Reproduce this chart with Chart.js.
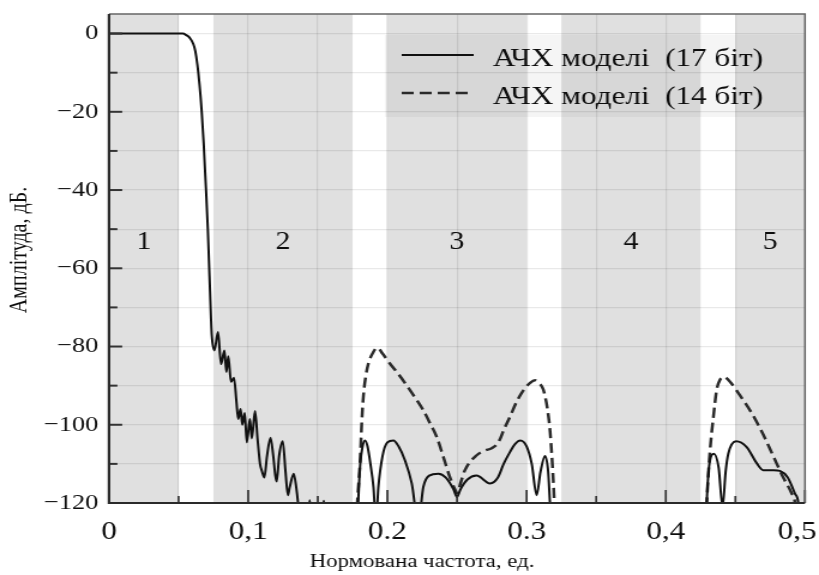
<!DOCTYPE html>
<html>
<head>
<meta charset="utf-8">
<script src="https://cdn.jsdelivr.net/npm/chart.js@4/dist/chart.umd.min.js"></script>
<style>
  html, body { margin: 0; padding: 0; background: #fff; overflow: hidden; }
  #wrap { width: 819px; height: 575px; }
  /* the source picture is stretched horizontally, so the canvas is too */
  canvas { display: block; transform: scale(1.19912, 1); transform-origin: 0 0; }
</style>
</head>
<body>
<div id="wrap"><canvas id="chart" width="683" height="575" style="width:683px;height:575px"></canvas></div>
<script>
// 17-bit model response
const freq17 = [
  0, 0.03, 0.05, 0.053, 0.0555, 0.058, 0.0605, 0.062, 0.0635, 0.065, 0.0666, 0.068, 0.0697, 0.071, 0.0718, 0.0726, 0.0733, 0.0738,
  0.0757, 0.0783, 0.0805, 0.0829, 0.0843, 0.0857, 0.0876, 0.0898, 0.0915, 0.0928, 0.0945, 0.0958, 0.0975, 0.099, 0.1012, 0.1026,
  0.1049, 0.1068, 0.1085, 0.11, 0.1116, 0.1135, 0.116, 0.118, 0.1195, 0.1205, 0.1222, 0.1248, 0.1268, 0.1285, 0.1298, 0.1327,
  0.1345, 0.1358, 0.137,
  0.14, 0.1428, 0.1442, 0.1456, 0.15, 0.153, 0.1543, 0.1556, 0.16,
  0.1784, 0.179, 0.1805, 0.1822, 0.1839, 0.1857, 0.1878, 0.19, 0.1918, 0.1935, 0.1965, 0.2, 0.2043, 0.208, 0.2125, 0.2175, 0.2222,
  0.2258, 0.23, 0.2366, 0.242, 0.2475, 0.25, 0.2525, 0.2575, 0.264, 0.2737, 0.2795, 0.2835, 0.288, 0.2915, 0.2955, 0.3, 0.3037,
  0.3072, 0.31, 0.3132, 0.3155, 0.3168, 0.3178,
  0.38,
  0.429, 0.4294, 0.4318, 0.4345, 0.438, 0.4408, 0.443, 0.4449, 0.4505, 0.4581, 0.4653, 0.47, 0.4775, 0.482, 0.4875, 0.4928, 0.4952, 0.4962
];
const amp17 = [
  0, 0, 0, 0, -0.4, -1.1, -2.6, -4.5, -8, -13, -20, -28, -40, -50, -58, -66, -73, -77,
  -81, -76.3, -84.5, -81, -86.5, -82.5, -89, -88, -94, -98.5, -96, -100, -97, -104.5, -98.5, -103.5,
  -96.5, -104, -110, -112, -113.5, -108, -103.3, -108, -113, -114.5, -108, -104.2, -112, -118, -116, -112.5,
  -116, -120, -125,
  null, -125, -119.3, -125, null, -125, -119.4, -125, null,
  -125, -120, -110, -105.5, -104, -105.5, -110, -116, -125, -116, -108, -104.5, -104, -105.5, -109, -115, -125,
  -115.9, -113, -112.5, -113.5, -116.5, -118.5, -116.5, -114, -113, -115, -113.4, -110, -107, -105, -104, -105.5, -110,
  -118, -112, -108, -112, -120, -125,
  null,
  -125, -120, -109, -107.4, -111, -121, -112, -107.4, -104.2, -105.7, -109.8, -111.6, -111.6, -111.8, -113.4, -117.6, -120, -125
];

// 14-bit model response (only where it differs from the 17-bit one)
const freq14 = [
  0.1778, 0.1784, 0.1803, 0.1815, 0.1827, 0.1845, 0.1863, 0.1899, 0.1928, 0.1965, 0.2019, 0.2078, 0.2138, 0.2198, 0.2258, 0.2306,
  0.2354, 0.24, 0.2445, 0.2485, 0.2502, 0.2525, 0.2557, 0.2641, 0.27, 0.2749, 0.2797, 0.284, 0.288, 0.293, 0.2977, 0.3025, 0.306,
  0.3095, 0.312, 0.315, 0.3168, 0.3185, 0.3197, 0.3205,
  0.38,
  0.4288, 0.4294, 0.4318, 0.4342, 0.4366, 0.439, 0.4418, 0.4461, 0.4533, 0.4617, 0.47, 0.4772, 0.4844, 0.4904, 0.4928, 0.4938
];
const amp14 = [
  -125, -120, -110, -100, -92.9, -87.5, -84.4, -81.4, -80.3, -81.8, -84.4, -87, -89.9, -93, -96.3, -99.6,
  -103.1, -108, -113, -116.5, -117.5, -115, -111.6, -107.8, -106.6, -106, -104.5, -101, -98, -94, -91.2, -89.3, -88.6,
  -89.5, -91, -96, -101.4, -110, -118, -125,
  null,
  -125, -120, -106.5, -98, -91, -88.5, -87.8, -89, -92.5, -97, -102.5, -108, -113.5, -117.5, -120, -125
];

const seriesLabels = ['АЧХ моделі  (17 біт)', 'АЧХ моделі  (14 біт)'];

// transition bands (white) between the numbered bands
const transitionBands = [[0.05, 0.075], [0.175, 0.2], [0.3, 0.325], [0.425, 0.45]];
const bandNames = ['1', '2', '3', '4', '5'];

const xTickValues = [0, 0.05, 0.1, 0.15, 0.2, 0.25, 0.3, 0.35, 0.4, 0.45, 0.5];
const xTickLabels = ['0', '', '0,1', '', '0.2', '', '0.3', '', '0,4', '', '0,5'];
const yTickValues = [-120, -110, -100, -90, -80, -70, -60, -50, -40, -30, -20, -10, 0];
const yTickLabels = ['−120', '', '−100', '', '−80', '', '−60', '', '−40', '', '−20', '', '0'];

const xTitle = 'Нормована частота, ед.';
const yTitle = 'Амплітуда, дБ.';

const SERIF = '"Liberation Serif", "Times New Roman", serif';
const INK = '#0d0d0d';

const toPoints = (xs, ys) => xs.map((f, i) => ({ x: f, y: ys[i] }));

const decor = {
  id: 'decor',
  beforeDraw(chart) {
    const { ctx, chartArea: a, scales: { x } } = chart;
    ctx.save();
    ctx.fillStyle = '#e0e0e0';
    ctx.fillRect(a.left, a.top, a.width, a.height);
    ctx.fillStyle = '#ffffff';
    transitionBands.forEach(([f0, f1]) => {
      const p0 = x.getPixelForValue(f0);
      const p1 = x.getPixelForValue(f1);
      ctx.fillRect(p0, a.top, p1 - p0, a.height);
    });
    ctx.restore();
  },
  beforeDatasetsDraw(chart) {
    const { ctx, chartArea: a } = chart;
    // legend box shade
    ctx.save();
    ctx.fillStyle = 'rgba(0,0,0,0.04)';
    ctx.fillRect(321, 35, a.right - 321, 82);
    ctx.restore();
  },
  afterDatasetsDraw(chart) {
    const { ctx, chartArea: a, scales: { x, y } } = chart;
    ctx.save();

    // inward tick marks
    ctx.strokeStyle = '#333';
    ctx.lineWidth = 2;
    yTickValues.forEach((v, i) => {
      const py = y.getPixelForValue(v);
      const len = yTickLabels[i] ? 11 : 7;
      ctx.beginPath(); ctx.moveTo(a.left, py); ctx.lineTo(a.left + len, py); ctx.stroke();
    });
    ctx.lineWidth = 1.7;
    xTickValues.forEach((v, i) => {
      const px = x.getPixelForValue(v);
      const len = xTickLabels[i] ? 13 : 7;
      ctx.beginPath(); ctx.moveTo(px, a.bottom); ctx.lineTo(px, a.bottom - len); ctx.stroke();
    });

    // frame
    ctx.strokeStyle = '#666';
    ctx.lineWidth = 1.5;
    ctx.beginPath();
    ctx.moveTo(a.left, a.top); ctx.lineTo(a.right, a.top); ctx.lineTo(a.right, a.bottom);
    ctx.stroke();
    ctx.strokeStyle = '#2a2a2a';
    ctx.lineWidth = 2.2;
    ctx.beginPath();
    ctx.moveTo(a.left, a.top); ctx.lineTo(a.left, a.bottom); ctx.lineTo(a.right, a.bottom);
    ctx.stroke();

    // band numbers, centred in each band
    const edges = [x.min].concat(transitionBands.flat(), [x.max]);
    ctx.fillStyle = INK;
    ctx.font = '25px ' + SERIF;
    ctx.textAlign = 'center';
    ctx.textBaseline = 'middle';
    bandNames.forEach((name, i) => {
      const mid = (edges[2 * i] + edges[2 * i + 1]) / 2;
      ctx.fillText(name, x.getPixelForValue(mid), y.getPixelForValue(-53.3));
    });

    // legend
    chart.data.datasets.forEach((ds, i) => {
      const ly = 55 + i * 38;
      ctx.strokeStyle = ds.borderColor;
      ctx.lineWidth = ds.borderWidth;
      ctx.setLineDash(ds.borderDash || []);
      ctx.beginPath(); ctx.moveTo(335, ly); ctx.lineTo(395, ly); ctx.stroke();
      ctx.setLineDash([]);
      ctx.fillStyle = INK;
      ctx.font = '26px ' + SERIF;
      ctx.textAlign = 'left';
      ctx.textBaseline = 'alphabetic';
      ctx.fillText(ds.label, 411, ly + 11);
    });

    // axis titles
    ctx.fillStyle = INK;
    ctx.textAlign = 'center';
    ctx.textBaseline = 'middle';
    ctx.font = '19px ' + SERIF;
    ctx.fillText(xTitle, 352, 562);
    ctx.translate(16.5, 250);
    ctx.rotate(-Math.PI / 2);
    ctx.font = '20px ' + SERIF;
    ctx.fillText(yTitle, 0, 0);

    ctx.restore();
  }
};

new Chart(document.getElementById('chart'), {
  type: 'line',
  data: {
    datasets: [
      {
        label: seriesLabels[0],
        data: toPoints(freq17, amp17),
        borderColor: '#111111',
        borderWidth: 2,
        pointRadius: 0,
        cubicInterpolationMode: 'monotone',
        spanGaps: false,
        clip: 1
      },
      {
        label: seriesLabels[1],
        data: toPoints(freq14, amp14),
        borderColor: '#2a2a2a',
        borderWidth: 2.5,
        borderDash: [10, 5],
        pointRadius: 0,
        cubicInterpolationMode: 'monotone',
        spanGaps: false,
        clip: 1
      }
    ]
  },
  options: {
    responsive: false,
    animation: false,
    devicePixelRatio: 1,
    layout: { padding: { top: 14, right: 11.7, left: 0, bottom: 0 } },
    plugins: { legend: { display: false }, tooltip: { enabled: false } },
    scales: {
      x: {
        type: 'linear',
        min: 0,
        max: 0.5,
        afterBuildTicks: s => { s.ticks = xTickValues.map(v => ({ value: v })); },
        afterFit: s => { s.height = 72; s.paddingLeft = 0; s.paddingRight = 0; },
        grid: { color: 'rgba(0,0,0,0.085)', lineWidth: 1.2, drawTicks: false },
        border: { display: false },
        ticks: {
          autoSkip: false,
          maxRotation: 0,
          padding: 14,
          color: INK,
          font: { family: SERIF, size: 26 },
          // last label sits against the window edge, so pad it to pull it left
          callback: (v, i) => (i === xTickLabels.length - 1 ? xTickLabels[i] + '\u00a0\u00a0' : xTickLabels[i])
        }
      },
      y: {
        min: -120,
        max: 5,
        afterBuildTicks: s => { s.ticks = yTickValues.map(v => ({ value: v })); },
        afterFit: s => { s.width = 90.9; s.paddingTop = 0; s.paddingBottom = 0; },
        grid: { color: 'rgba(0,0,0,0.085)', lineWidth: 1.2, drawTicks: false },
        border: { display: false },
        ticks: {
          autoSkip: false,
          padding: 9,
          color: INK,
          font: { family: SERIF, size: 22 },
          callback: (v, i) => yTickLabels[i]
        }
      }
    }
  },
  plugins: [decor]
});
</script>
</body>
</html>
